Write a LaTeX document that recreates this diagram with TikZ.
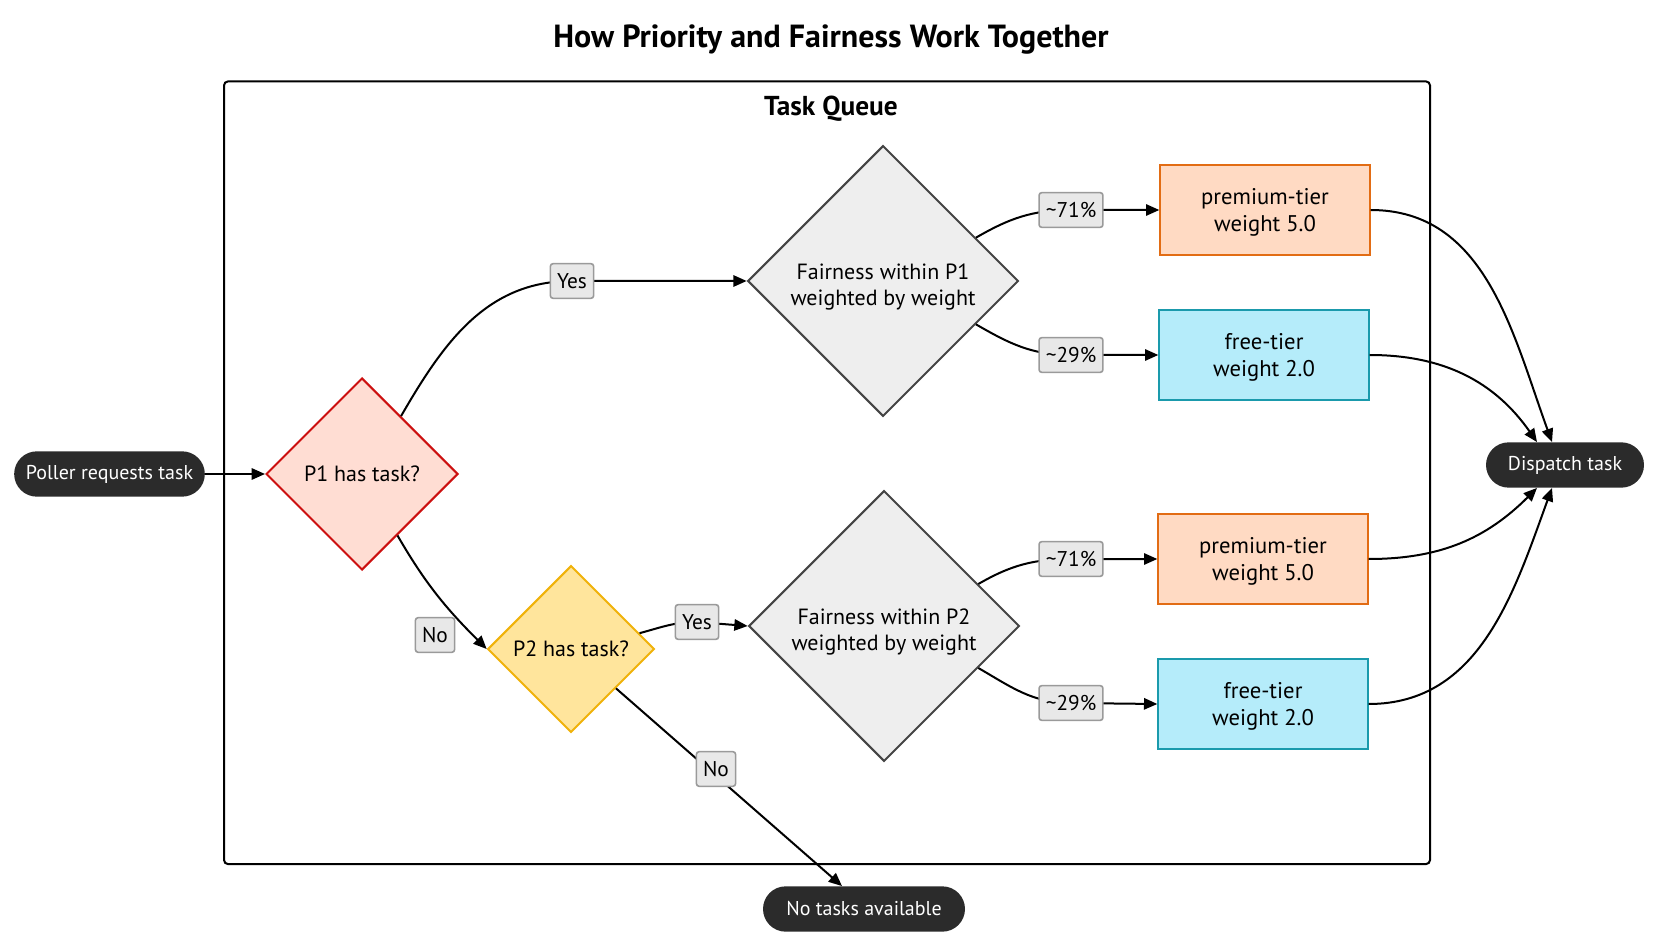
\documentclass[tikz,border=0pt]{standalone}
\usepackage{fontspec}
\setmainfont{PT Sans}
\usetikzlibrary{shapes.geometric,arrows.meta,calc}
\definecolor{pilldark}{HTML}{2B2B2B}
\definecolor{lblfill}{HTML}{E8E8E8}
\definecolor{lbldraw}{HTML}{9A9A9A}
\definecolor{pOnefill}{HTML}{FFDDD3}
\definecolor{pOnedraw}{HTML}{CC1010}
\definecolor{pTwofill}{HTML}{FFE59C}
\definecolor{pTwodraw}{HTML}{F0B20A}
\definecolor{fairfill}{HTML}{EEEEEE}
\definecolor{fairdraw}{HTML}{444444}
\definecolor{premfill}{HTML}{FFDAC3}
\definecolor{premdraw}{HTML}{E26C14}
\definecolor{freefill}{HTML}{B5ECFA}
\definecolor{freedraw}{HTML}{1A9AAC}
\newcommand{\shifttext}[2]{\raisebox{-#1}[\height][\depth]{\begin{tabular}{@{}c@{}}#2\end{tabular}}}
\begin{document}
\begin{tikzpicture}[x=0.75pt,y=-0.75pt,
  base/.style={font=\fontsize{16.5}{19}\selectfont, align=center, text=black},
  dia/.style={base, diamond, aspect=1, inner sep=0pt, line width=1.5pt},
  tierbox/.style={base, font=\fontsize{17}{20.6}\selectfont, rectangle, minimum width=157pt, minimum height=67pt, line width=1.5pt, inner sep=0pt},
  pill/.style={base, font=\fontsize{15}{19}\selectfont, rectangle, rounded corners=17pt, fill=pilldark, text=white, minimum height=34pt, inner sep=0pt},
  lbl/.style={base, font=\fontsize{16}{19}\selectfont, rectangle, rounded corners=2pt, fill=lblfill, draw=lbldraw, line width=1.2pt, minimum height=26pt, inner xsep=5pt, inner ysep=0pt},
  edge/.style={line width=1.5pt, -{Triangle[length=10pt,width=8.5pt]}},
]
\useasboundingbox (0,0) rectangle (1660,948);
\node[font=\bfseries\fontsize{24}{28}\selectfont] (title) at (831,40) {How Priority and Fairness Work Together};
\node[draw, line width=1.5pt, rounded corners=3pt, minimum width=904.5pt, minimum height=587pt] (queue) at (827,472.75) {};
\node[font=\bfseries\fontsize{20.5}{24}\selectfont] (qtitle) at (831,109) {Task Queue};

\node[pill, minimum width=143pt] (poller) at (109.5,474) {Poller requests task};
\node[pill, minimum width=118.5pt] (disp) at (1565,465) {Dispatch task};
\node[pill, minimum width=151.5pt] (nt) at (864,909) {No tasks available};

\node[dia, fill=pOnefill, draw=pOnedraw, minimum width=144pt, minimum height=144pt] (p1) at (362,474) {P1 has task?};
\node[dia, fill=pTwofill, draw=pTwodraw, minimum width=125pt, minimum height=125pt] (p2) at (571,649) {P2 has task?};
\node[dia, fill=fairfill, draw=fairdraw, minimum width=203pt, minimum height=203pt] (f1) at (883,281) {\shifttext{4.8pt}{Fairness within P1\\weighted by weight}};
\node[dia, fill=fairfill, draw=fairdraw, minimum width=203pt, minimum height=203pt] (f2) at (884,626) {\shifttext{4.8pt}{Fairness within P2\\weighted by weight}};

\node[tierbox, fill=premfill, draw=premdraw] (pa1) at (1265,210) {\shifttext{2pt}{premium-tier\\weight 5.0}};
\node[tierbox, fill=freefill, draw=freedraw] (fb1) at (1264,355) {\shifttext{2pt}{free-tier\\weight 2.0}};
\node[tierbox, fill=premfill, draw=premdraw] (pa2) at (1263,559) {\shifttext{2pt}{premium-tier\\weight 5.0}};
\node[tierbox, fill=freefill, draw=freedraw] (fb2) at (1263,704) {\shifttext{2pt}{free-tier\\weight 2.0}};

\coordinate (ly1) at (572,281);
\coordinate (ln1) at (435,635);
\coordinate (ly2) at (697,622);
\coordinate (ln2) at (716,769);
\coordinate (la1) at (1071,210);
\coordinate (lb1) at (1071,355);
\coordinate (la2) at (1071,559);
\coordinate (lb2) at (1071,703);

\draw[edge] (poller) -- (p1.west);
\draw[edge] (p1.56) to[out=60,in=180] (ly1) -- (f1.west);
\draw[edge] (p1.-60) to[out=-60,in=135] (p2.west);
\draw[edge] (p2.13) to[out=15,in=180] (ly2) -- (f2.west);
\draw[edge] (p2) -- ($(nt.north)+(-22,0)$);
\draw[edge] (f1.25) to[out=30,in=180] (la1) -- (pa1.west);
\draw[edge] (f1.-25) to[out=-30,in=180] (lb1) -- (fb1.west);
\draw[edge] (f2.24) to[out=30,in=180] (la2) -- (pa2.west);
\draw[edge] (f2.-24) to[out=-30,in=180] (lb2) -- (fb2.west);
\draw[edge] (pa1.east) to[out=0,in=110] ($(disp.north)+(-13,0)$);
\draw[edge] (fb1.east) to[out=0,in=125] ($(disp.north)+(-28,0)$);
\draw[edge] (pa2.east) to[out=0,in=-135] ($(disp.south)+(-28,0)$);
\draw[edge] (fb2.east) to[out=0,in=-110] ($(disp.south)+(-13,0)$);

\node[lbl] (tly1) at (ly1) {Yes};
\node[lbl] (tln1) at (ln1) {No};
\node[lbl] (tly2) at (ly2) {Yes};
\node[lbl] (tln2) at (ln2) {No};
\node[lbl] (tla1) at (la1) {\textasciitilde71\%};
\node[lbl] (tlb1) at (lb1) {\textasciitilde29\%};
\node[lbl] (tla2) at (la2) {\textasciitilde71\%};
\node[lbl] (tlb2) at (lb2) {\textasciitilde29\%};
\end{tikzpicture}
\end{document}
